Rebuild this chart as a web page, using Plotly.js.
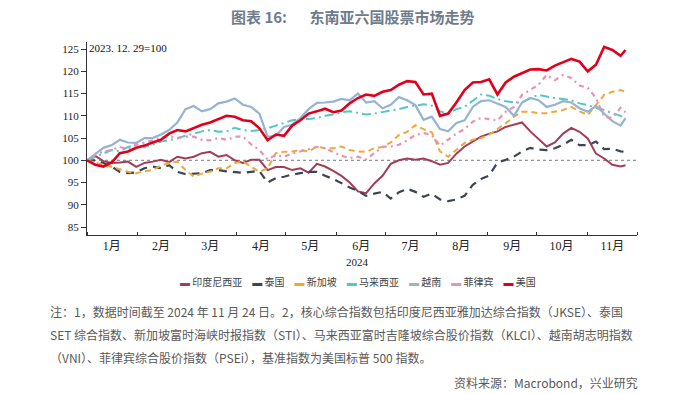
<!DOCTYPE html>
<html>
<head>
<meta charset="utf-8">
<script src="https://cdn.plot.ly/plotly-3.0.1.min.js"></script>
<style>
  html, body { margin: 0; padding: 0; background: #ffffff; }
  #chart { width: 691px; height: 394px; }
</style>
</head>
<body>
<div id="chart"></div>
<script>
// ---- data ----
const dates = ["2024-01-01","2024-01-06","2024-01-11","2024-01-16","2024-01-21","2024-01-26","2024-01-31",
  "2024-02-05","2024-02-10","2024-02-15","2024-02-20","2024-02-25",
  "2024-03-01","2024-03-06","2024-03-11","2024-03-16","2024-03-21","2024-03-26","2024-03-31",
  "2024-04-05","2024-04-10","2024-04-15","2024-04-20","2024-04-25","2024-04-30",
  "2024-05-05","2024-05-10","2024-05-15","2024-05-20","2024-05-25","2024-05-30",
  "2024-06-04","2024-06-09","2024-06-14","2024-06-19","2024-06-24","2024-06-29",
  "2024-07-04","2024-07-09","2024-07-14","2024-07-19","2024-07-24","2024-07-29",
  "2024-08-03","2024-08-08","2024-08-13","2024-08-18","2024-08-23","2024-08-28",
  "2024-09-02","2024-09-07","2024-09-12","2024-09-17","2024-09-22","2024-09-27",
  "2024-10-02","2024-10-07","2024-10-12","2024-10-17","2024-10-22","2024-10-27",
  "2024-11-01","2024-11-06","2024-11-11","2024-11-16","2024-11-21","2024-11-24"];

const seriesNames = ["印度尼西亚","泰国","新加坡","马来西亚","越南","菲律宾","美国"];

const indonesia = [100, 101.0, 99.8, 99.4, 99.5, 99.7, 98.5, 99.4, 99.7, 100.1,
  99.6, 100.8, 100.4, 100.8, 101.6, 101.9, 100.8, 101.2, 100.0, 99.4,
  100.1, 100.1, 97.8, 98.5, 98.5, 97.8, 98.2, 97.2, 99.2, 98.6,
  97.6, 96.5, 95.0, 93.0, 92.6, 94.8, 96.5, 99.2, 100.0, 100.4,
  100.1, 100.4, 99.8, 99.0, 99.4, 101.5, 103.1, 104.3, 105.3, 106.0,
  106.5, 107.5, 108.0, 108.5, 106.5, 104.8, 103.1, 104.0, 106.0, 107.3,
  106.4, 104.9, 101.5, 100.4, 99.0, 98.6, 98.9];

const thailand = [100, 100.0, 99.4, 98.6, 97.4, 97.1, 97.3, 98.2, 98.6, 98.2,
  98.9, 97.4, 96.9, 97.0, 97.1, 97.8, 97.8, 97.5, 97.3, 97.2,
  97.4, 97.6, 95.0, 96.0, 96.3, 96.8, 97.1, 97.4, 97.4, 96.5,
  95.8, 94.8, 93.9, 93.1, 92.0, 92.5, 92.9, 91.4, 92.8, 93.6,
  92.9, 91.8, 92.5, 91.2, 90.8, 91.2, 92.0, 94.5, 95.8, 96.6,
  99.5, 100.1, 100.8, 102.0, 102.8, 102.4, 102.3, 102.7, 103.5, 104.6,
  103.4, 103.4, 104.2, 102.5, 102.6, 102.0, 101.9];

const singapore = [100, 99.5, 99.0, 98.6, 98.0, 97.4, 97.1, 97.5, 97.8, 98.8,
  99.4, 99.7, 97.8, 96.3, 97.0, 97.4, 98.2, 98.2, 99.4, 99.7,
  98.6, 97.4, 98.2, 101.6, 101.9, 102.0, 102.3, 102.0, 103.1, 102.7,
  102.7, 103.1, 102.3, 102.0, 101.9, 102.7, 103.0, 104.0, 105.7, 106.4,
  107.9, 107.0, 106.3, 102.0, 100.8, 102.3, 103.9, 104.6, 105.0, 105.8,
  107.0, 108.3, 109.8, 110.9, 110.9, 110.6, 110.6, 110.9, 111.3, 112.0,
  111.0, 110.2, 112.4, 114.7, 115.4, 115.8, 115.4];

const malaysia = [100, 100.8, 101.5, 102.3, 102.0, 103.0, 103.5, 103.0, 103.5, 104.2,
  104.5, 105.0, 105.5, 106.0, 106.5, 106.8, 106.4, 106.5, 107.3, 106.8,
  106.6, 106.8, 107.2, 107.8, 108.4, 109.0, 109.3, 109.3, 109.5, 110.0,
  110.3, 110.8, 111.0, 110.6, 110.3, 110.5, 110.9, 111.2, 111.5, 112.0,
  112.3, 112.6, 112.3, 111.0, 110.5, 111.5, 112.0, 113.5, 114.8, 114.5,
  113.8, 113.3, 113.0, 113.0, 114.0, 114.7, 114.3, 114.0, 113.8, 113.5,
  112.8, 112.4, 111.8, 111.3, 110.6, 110.0, 109.3];

const vietnam = [100, 101.5, 102.8, 103.4, 104.6, 104.0, 103.9, 105.0, 105.0, 105.8,
  106.8, 108.5, 111.5, 112.2, 111.0, 111.5, 112.8, 113.2, 113.9, 112.5,
  112.0, 110.5, 105.3, 105.5, 107.5, 108.0, 109.5, 111.5, 112.9, 113.0,
  113.2, 113.8, 113.5, 115.0, 113.0, 113.3, 111.7, 112.5, 114.2, 113.5,
  112.4, 109.1, 109.8, 107.0, 106.5, 108.4, 109.0, 112.0, 113.3, 113.5,
  112.7, 112.0, 110.0, 113.0, 114.0, 113.5, 112.0, 112.5, 113.3, 113.0,
  111.7, 110.9, 112.2, 110.5, 108.8, 107.8, 109.5];

const philippines = [100, 101.2, 102.0, 102.3, 103.0, 102.5, 103.5, 104.0, 104.5, 105.0,
  105.5, 105.0, 105.3, 105.3, 104.6, 104.5, 105.0, 104.6, 105.3, 105.3,
  103.6, 102.3, 100.2, 101.2, 100.8, 101.5, 102.0, 102.6, 103.0, 102.7,
  101.8, 101.0, 100.5, 100.8, 100.2, 101.5, 103.0, 103.1, 103.5, 104.5,
  105.7, 106.1, 105.7, 103.3, 104.6, 106.0, 107.0, 108.7, 109.5, 109.3,
  109.0, 110.9, 112.0, 114.7, 115.8, 117.0, 119.2, 118.0, 119.2, 118.5,
  116.8, 116.3, 114.0, 109.8, 109.5, 111.8, 110.8];

const usa = [100, 99.0, 98.6, 99.5, 101.6, 102.0, 102.8, 103.3, 104.0, 104.6,
  106.0, 106.8, 106.5, 107.2, 108.0, 108.5, 109.2, 110.0, 109.8, 109.0,
  108.8, 107.2, 104.5, 105.8, 105.5, 107.8, 109.0, 110.5, 111.0, 111.6,
  110.8, 111.2, 112.8, 114.0, 114.8, 114.5, 115.4, 115.8, 117.0, 117.8,
  117.6, 114.8, 115.0, 110.0, 110.5, 113.0, 115.8, 117.5, 117.6, 118.2,
  114.8, 117.5, 118.8, 119.6, 120.4, 120.5, 120.2, 121.3, 122.0, 122.8,
  122.2, 120.0, 121.5, 125.5, 124.8, 123.5, 124.8];

const monthStarts = ["2024-01-01","2024-02-01","2024-03-01","2024-04-01","2024-05-01","2024-06-01",
  "2024-07-01","2024-08-01","2024-09-01","2024-10-01","2024-11-01","2024-12-01"];
const monthLabelDates = ["2024-01-16","2024-02-15","2024-03-16","2024-04-16","2024-05-16","2024-06-16",
  "2024-07-16","2024-08-16","2024-09-16","2024-10-16","2024-11-16"];
const monthLabels = ["1月","2月","3月","4月","5月","6月","7月","8月","9月","10月","11月"];
const yTicks = [85, 90, 95, 100, 105, 110, 115, 120, 125];

const baseLabel = "2023. 12. 29=100";
const yearLabel = "2024";
const titleText = "图表 16:\u3000\u2002东南亚六国股票市场走势";
const noteLines = [
  "注：1，数据时间截至 2024 年 11 月 24 日。2，核心综合指数包括印度尼西亚雅加达综合指数（JKSE）、泰国",
  "SET 综合指数、新加坡富时海峡时报指数（STI）、马来西亚富时吉隆坡综合股价指数（KLCI）、越南胡志明指数",
  "（VNI）、菲律宾综合股价指数（PSEi），基准指数为美国标普 500 指数。"
];
const sourceText = "资料来源：Macrobond，兴业研究";

// ---- styles ----
const seriesValues = [indonesia, thailand, singapore, malaysia, vietnam, philippines, usa];
const colors = ["#a33c57", "#3c4553", "#eca93c", "#52c8c4", "#94b4d2", "#e693b6", "#e1001c"];
const dashes = ["solid", "8px,6px", "6px,4px", "9px,4px,2px,4px", "solid", "2px,4px,5px,4px", "solid"];
const widths = [2, 2.2, 2, 2, 2.2, 2.2, 2.6];

const traces = seriesValues.map((vals, i) => ({
  type: "scatter",
  mode: "lines",
  name: seriesNames[i],
  x: dates,
  y: vals,
  line: { color: colors[i], width: widths[i], dash: dashes[i], shape: "linear" },
  hoverinfo: "skip"
}));

const serif = "'Liberation Serif', 'Times New Roman', 'Noto Sans CJK SC', serif";
const cjk = "'Noto Sans CJK SC', 'Noto Sans', sans-serif";

const legendText = seriesNames.map((n, i) =>
  `<span style="color:${colors[i]}">▬</span> ${n}`).join("\u2002\u2002");

const annotations = [
  { xref: "paper", yref: "paper", x: 0.482, y: 1.13, xanchor: "center", yanchor: "middle",
    text: titleText, showarrow: false,
    font: { family: cjk, size: 15, color: "#6e7c8c", weight: 600 } },
  { xref: "paper", yref: "paper", x: 0.0, y: 0.969, xanchor: "left", yanchor: "middle",
    text: baseLabel, showarrow: false,
    font: { family: serif, size: 11, color: "#111" } },
  { xref: "paper", yref: "paper", x: 0.4927, y: -0.14, xanchor: "center", yanchor: "middle",
    text: yearLabel, showarrow: false,
    font: { family: serif, size: 11, color: "#222" } },
  { xref: "paper", yref: "paper", x: 0.4927, y: -0.2435, xanchor: "center", yanchor: "middle",
    text: legendText, showarrow: false,
    font: { family: cjk, size: 10, color: "#444" } },
  { xref: "paper", yref: "paper", x: 1.0055, y: -0.762, xanchor: "right", yanchor: "middle",
    text: sourceText, showarrow: false,
    font: { family: cjk, size: 12, color: "#595959" } }
];
const noteY = [-0.394, -0.516, -0.635];
noteLines.forEach((t, i) => annotations.push({
  xref: "paper", yref: "paper", x: -0.0709, y: noteY[i], xanchor: "left", yanchor: "middle",
  text: t, showarrow: false, font: { family: cjk, size: 12, color: "#595959" }
}));

const layout = {
  width: 691, height: 394,
  margin: { l: 87, r: 54, t: 42, b: 159, pad: 0 },
  paper_bgcolor: "#ffffff", plot_bgcolor: "#ffffff",
  showlegend: false,
  xaxis: {
    type: "date",
    range: ["2024-01-01", "2024-12-01"],
    tickmode: "array", tickvals: monthLabelDates, ticktext: monthLabels,
    ticks: "", showgrid: false, zeroline: false,
    showline: true, linecolor: "#333", linewidth: 1,
    tickfont: { family: serif, size: 12, color: "#222" },
    minor: { tickmode: "array", tickvals: monthStarts, ticks: "inside", ticklen: 3, tickcolor: "#333", showgrid: false }
  },
  yaxis: {
    range: [83.2, 126.6],
    tickmode: "array", tickvals: yTicks,
    ticks: "outside", ticklen: 5, tickcolor: "#333",
    showgrid: false, zeroline: false,
    showline: true, linecolor: "#333", linewidth: 1,
    tickfont: { family: serif, size: 11, color: "#222" }
  },
  shapes: [
    { type: "line", xref: "paper", yref: "y", x0: 0, x1: 1, y0: 100, y1: 100,
      line: { color: "#777", width: 1, dash: "3px,3px" }, layer: "below" }
  ],
  annotations: annotations
};

Plotly.newPlot("chart", traces, layout, { staticPlot: true, displayModeBar: false });
</script>
</body>
</html>
